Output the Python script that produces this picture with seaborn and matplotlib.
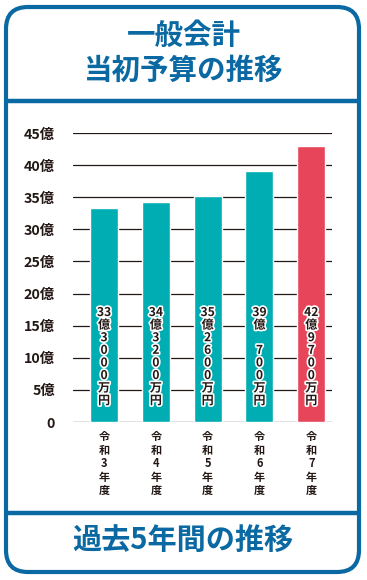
import matplotlib
matplotlib.use("Agg")
import matplotlib.pyplot as plt
import matplotlib.patheffects as pe
from matplotlib.patches import FancyBboxPatch
import seaborn as sns
import pandas as pd

# ---- data ----
years = ["令和3年度", "令和4年度", "令和5年度", "令和6年度", "令和7年度"]
values = [33.30, 34.32, 35.26, 39.07, 42.97]          # 億円
bar_labels = ["33億3000万円", "34億3200万円", "35億2600万円", "39億 700万円", "42億9700万円"]
yticks = [0, 5, 10, 15, 20, 25, 30, 35, 40, 45]
ytick_labels = ["0", "5億", "10億", "15億", "20億", "25億", "30億", "35億", "40億", "45億"]
title_lines = ["一般会計", "当初予算の推移"]
footer = "過去5年間の推移"

TEAL = "#00adb3"
RED = "#e6455a"
BLUE = "#0a69a2"
DARK = "#231815"

sns.set_theme(style="white")
plt.rcParams["font.family"] = ["Noto Sans CJK JP", "DejaVu Sans"]

W, H = 367, 580
fig = plt.figure(figsize=(W / 100, H / 100), dpi=100)
fig.patch.set_facecolor("white")

# chart axes
ax = fig.add_axes([73 / W, (H - 422) / H, (332 - 73) / W, (422 - 133) / H])
df = pd.DataFrame({"year": years, "value": values})
colors = [TEAL] * (len(years) - 1) + [RED]
sns.barplot(data=df, x="year", y="value", hue="year", palette=colors,
            legend=False, width=0.54, saturation=1, ax=ax, zorder=3)
ax.set_xlim(-0.6, 4.4)
ax.set_ylim(0, 45)
ax.set_yticks(yticks)
ax.set_yticklabels(ytick_labels, fontsize=10.3, color=DARK, fontweight="bold")
ax.yaxis.grid(True, color=DARK, linewidth=0.9, zorder=0)
ax.set_axisbelow(True)
for s in ax.spines.values():
    s.set_visible(False)
ax.tick_params(axis="y", length=0, pad=13)
ax.tick_params(axis="x", length=0, pad=6)
ax.set_xticks(range(len(years)))
ax.set_xticklabels(["\n".join(list(y)) for y in years], fontsize=8,
                   color=DARK, linespacing=1.05, va="top", fontweight="bold")
ax.set_xlabel("")
ax.set_ylabel("")

# vertical bar labels
for i, lab in enumerate(bar_labels):
    head, rest = lab.split("億")
    lines = [head, "億"] + list(rest)
    txt = "\n".join(lines)
    ax.text(i, 2.3, txt, ha="center", va="bottom", fontsize=8.7,
            color=DARK, linespacing=0.96, zorder=5, fontweight="bold",
            path_effects=[pe.withStroke(linewidth=2.4, foreground="white")])

# overlay axes in pixel coords for frame and titles
ov = fig.add_axes([0, 0, 1, 1], zorder=10)
ov.set_xlim(0, W)
ov.set_ylim(H, 0)
ov.axis("off")
ov.patch.set_alpha(0)
box = FancyBboxPatch((6, 7), 353, 565,
                     boxstyle="round,pad=0,rounding_size=22",
                     fill=False, edgecolor=BLUE, linewidth=3.0)
ov.add_patch(box)
ov.plot([6, 359], [100.5, 100.5], color=BLUE, lw=3.2, solid_capstyle="butt")
ov.plot([6, 359], [513, 513], color=BLUE, lw=3.2, solid_capstyle="butt")
ov.text(W / 2, 36, title_lines[0], ha="center", va="center", fontsize=20.5,
        fontweight="bold", color=BLUE)
ov.text(W / 2, 71, title_lines[1], ha="center", va="center", fontsize=20.5,
        fontweight="bold", color=BLUE)
ov.text(183, 541, footer, ha="center", va="center", fontsize=21,
        fontweight="bold", color=BLUE)

fig.savefig("out.png", dpi=100)
